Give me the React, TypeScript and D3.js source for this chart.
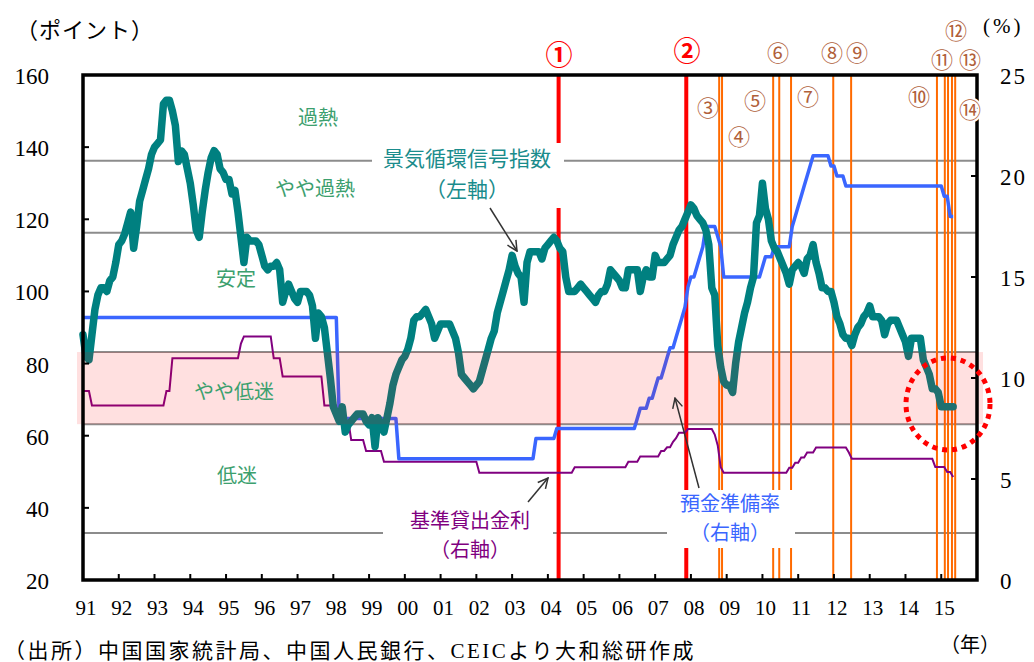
import React from 'react';
import * as d3 from 'd3';

// 月次データ: 1991年1月〜2015年5月
const START_YEAR = 1991;
const yearLabels = ['91', '92', '93', '94', '95', '96', '97', '98', '99', '00', '01', '02', '03', '04', '05', '06', '07', '08', '09', '10', '11', '12', '13', '14', '15'];

// 景気循環信号指数 (左軸)
const climateIndex = [
  88, 82, 81, 88, 95, 99, 101, 101, 100, 103, 104, 108,
  113, 114, 116, 119, 122, 112, 118, 125, 128, 131, 134, 138,
  140, 141, 142, 152, 153, 153, 150, 146, 136, 139, 138, 134,
  130, 124, 117, 115, 122, 128, 133, 137, 139, 138, 134, 133,
  131, 131, 127, 128, 122, 115, 108, 115, 114, 114, 114, 113,
  110, 107, 106, 107, 107, 108, 106, 97, 100, 102, 100, 98,
  97, 100, 100, 100, 99, 96, 87, 94, 93, 90, 83, 76,
  68, 66, 64, 68, 61, 63, 64, 65, 66, 66, 66, 64,
  63, 65, 57, 65, 63, 61, 65, 69, 74, 77, 79, 81,
  82, 84, 87, 92, 93, 93, 94, 95, 93, 91, 87, 89,
  91, 91, 91, 91, 89, 87, 83, 77, 76, 75, 74, 73,
  74, 75, 78, 81, 84, 87, 89, 94, 97, 100, 103, 106,
  110, 107, 105, 104, 97, 108, 111, 111, 111, 111, 109, 112,
  113, 114, 115, 114, 112, 111, 104, 100, 100, 100, 101, 102,
  101, 100, 99, 98, 97, 99, 100, 100, 102, 106, 105, 104,
  103, 101, 101, 106, 106, 106, 106, 100, 104, 106, 104, 104,
  110, 108, 108, 108, 109, 110, 113, 115, 117, 118, 120, 122,
  124, 123, 121, 120, 119, 117, 113, 101, 99, 85, 79, 75,
  74, 74, 72, 80, 86, 90, 94, 97, 101, 104, 119, 121,
  130, 123, 120, 114, 112, 111, 109, 107, 105, 102, 106, 107,
  108, 107, 105, 109, 110, 113, 108, 105, 101, 101, 100, 100,
  97, 93, 91, 88, 87, 87, 85, 88, 90, 91, 93, 94,
  96, 93, 93, 93, 92, 88, 91, 92, 92, 92, 90, 88,
  86, 82, 87, 87, 87, 87, 81, 79, 77, 73, 73, 72,
  68, 68, 68, 68, 68,
];

// 預金準備率 (右軸, %) 変更月と水準
const rrrMonths = ['1991-01', '1998-03', '1999-11', '2003-09', '2004-04', '2006-07', '2006-08', '2006-11', '2007-01', '2007-02', '2007-04', '2007-05', '2007-06', '2007-08', '2007-09', '2007-10', '2007-11', '2007-12', '2008-01', '2008-03', '2008-04', '2008-05', '2008-06', '2008-10', '2008-11', '2008-12', '2010-01', '2010-02', '2010-05', '2010-11', '2010-12', '2011-01', '2011-02', '2011-03', '2011-04', '2011-05', '2011-06', '2011-12', '2012-02', '2012-05', '2015-02', '2015-04'];
const rrrValues = [13, 8, 6, 7, 7.5, 8, 8.5, 9, 9.5, 10, 10.5, 11, 11.5, 12, 12.5, 13, 13.5, 14.5, 15, 15.5, 16, 16.5, 17.5, 17, 16.5, 15, 15.5, 16, 16.5, 17.5, 18, 18.5, 19, 19.5, 20, 20.5, 21, 20.5, 20, 19.5, 19, 18];

// 基準貸出金利 (右軸, %)
const rateMonths = ['1991-01', '1991-04', '1993-05', '1993-07', '1995-06', '1995-07', '1996-05', '1996-08', '1997-10', '1998-03', '1998-07', '1998-12', '1999-06', '2002-02', '2004-10', '2006-04', '2006-08', '2007-03', '2007-05', '2007-07', '2007-08', '2007-09', '2007-12', '2008-09', '2008-10', '2008-11', '2008-12', '2010-10', '2010-12', '2011-02', '2011-04', '2011-07', '2012-06', '2012-07', '2014-11', '2015-03', '2015-05'];
const rateValues = [9.36, 8.64, 9.36, 10.98, 11.7, 12.06, 10.98, 10.08, 8.64, 7.92, 6.93, 6.39, 5.85, 5.31, 5.58, 5.85, 6.12, 6.39, 6.57, 6.84, 7.02, 7.29, 7.47, 7.2, 6.66, 5.58, 5.31, 5.56, 5.81, 6.06, 6.31, 6.56, 6.31, 6, 5.6, 5.35, 5.1];

// 景気の判定ライン
const zoneLines = [136.2, 116.3, 33.0];
const bandTop = 83.2;
const bandBottom = 63.2;

// 政策イベント
const eventDates = [2004.3, 2007.87, 2008.79, 2008.87, 2010.3, 2010.47, 2010.8, 2011.98, 2012.48, 2014.88, 2015.1, 2015.19, 2015.3, 2015.39];
const eventLabels = ['①', '②', '③', '④', '⑤', '⑥', '⑦', '⑧', '⑨', '⑩', '⑪', '⑫', '⑬', '⑭'];

const W = 1034;
const H = 662;
const L = 83, R = 977, T = 75, B = 580;

const monthIdx = (s: string) => {
  const [y, m] = s.split('-').map(Number);
  return (y - START_YEAR) * 12 + (m - 1);
};

const stepSeries = (months: string[], values: number[], n: number) => {
  const idx = months.map(monthIdx);
  return d3.range(n).map((m) => {
    let v = values[0];
    idx.forEach((k, i) => { if (k <= m) v = values[i]; });
    return v;
  });
};

const N = climateIndex.length;
const rrr = stepSeries(rrrMonths, rrrValues, N);
const rate = stepSeries(rateMonths, rateValues, N);

const x = d3.scaleLinear().domain([1991, 2016]).range([L, R]);
const yL = d3.scaleLinear().domain([20, 160]).range([B, T]);
const yR = d3.scaleLinear().domain([0, 25]).range([B, T]);
const t = (m: number) => START_YEAR + m / 12;

const lineL = d3.line<number>().x((_, i) => x(t(i))).y((d) => yL(d));
const lineR = d3.line<number>().x((_, i) => x(t(i))).y((d) => yR(d));

const serif = "'Liberation Serif', 'Noto Sans CJK JP', serif";
const sans = "'Noto Sans CJK JP', sans-serif";
const zoneColor = '#3ca06e';
const brown = '#b0603a';

// ラベル位置 (px)
const eventLabelPos: [number, number][] = [
  [559, 56], [687, 52], [708, 108], [739, 137], [755, 101], [778, 53], [808, 97],
  [832, 53], [857, 53], [919, 97], [942, 60], [956, 31], [970, 60], [970, 110],
];

export default function App() {
  return (
    <svg width={W} height={H} style={{ position: 'absolute', left: 0, top: 0, background: '#fff' }}>
      <defs>
        <marker id="arr" viewBox="0 0 12 12" refX="11" refY="6" markerWidth="12" markerHeight="12" markerUnits="userSpaceOnUse" orient="auto">
          <path d="M1,1 L11,6 L1,11" fill="none" stroke="#333" strokeWidth={1.5} />
        </marker>
      </defs>

      {/* 判定ライン */}
      {zoneLines.map((v) => (
        <line key={v} x1={L} x2={R} y1={yL(v)} y2={yL(v)} stroke="#8c8c8c" strokeWidth={2} />
      ))}
      {[bandTop, bandBottom].map((v) => (
        <line key={v} x1={L} x2={R} y1={yL(v)} y2={yL(v)} stroke="#8c8c8c" strokeWidth={2} />
      ))}

      {/* イベント線 */}
      {eventDates.map((d, i) => (
        <line key={i} x1={x(d)} x2={x(d)} y1={T} y2={B} stroke={i < 2 ? '#ff0000' : '#ff6a00'} strokeWidth={i < 2 ? 4 : 2} />
      ))}

      <path d={lineR(rate) ?? ''} fill="none" stroke="#800080" strokeWidth={2} />
      <path d={lineR(rrr) ?? ''} fill="none" stroke="#3a66ff" strokeWidth={3.5} strokeLinejoin="round" />
      <path d={lineL(climateIndex) ?? ''} fill="none" stroke="#008080" strokeWidth={7.5} strokeLinejoin="round" strokeLinecap="round" />

      {/* やや低迷の帯 */}
      <rect x={77} y={yL(bandTop)} width={906} height={yL(bandBottom) - yL(bandTop)} fill="#ff0000" opacity={0.12} />

      {/* 枠と目盛 */}
      <rect x={L} y={T} width={R - L} height={B - T} fill="none" stroke="#000" strokeWidth={3.5} />
      {d3.range(20, 161, 20).map((v) => (
        <g key={'l' + v}>
          <line x1={L} x2={L + 6} y1={yL(v)} y2={yL(v)} stroke="#000" strokeWidth={2} />
          <text x={49} y={yL(v) + 1} dy="0.35em" textAnchor="end" fontFamily={serif} fontSize={23}>{v}</text>
        </g>
      ))}
      {d3.range(0, 26, 5).map((v) => (
        <g key={'r' + v}>
          <line x1={R - 6} x2={R} y1={yR(v)} y2={yR(v)} stroke="#000" strokeWidth={2} />
          <text x={1000} y={yR(v) + 1} dy="0.35em" fontFamily={serif} fontSize={23} letterSpacing={2}>{v}</text>
        </g>
      ))}
      {yearLabels.map((lab, i) => (
        <g key={lab}>
          {i > 0 && <line x1={x(START_YEAR + i)} x2={x(START_YEAR + i)} y1={B} y2={B - 6} stroke="#000" strokeWidth={2} />}
          <text x={x(START_YEAR + i) + 3} y={608} dy="0.35em" textAnchor="middle" fontFamily={serif} fontSize={21}>{lab}</text>
        </g>
      ))}

      {/* ゾーン名 */}
      <g fontFamily={sans} fontSize={20} fill={zoneColor} textAnchor="middle">
        <text x={318} y={118} dy="0.35em">過熱</text>
        <text x={315} y={189} dy="0.35em">やや過熱</text>
        <text x={236} y={279} dy="0.35em">安定</text>
        <text x={234} y={392} dy="0.35em">やや低迷</text>
        <text x={237} y={476} dy="0.35em">低迷</text>
      </g>

      {/* 系列ラベル */}
      <rect x={372} y={143} width={192} height={65} fill="#fff" />
      <g fontFamily={sans} fontSize={21} fill="#1a8c8c" textAnchor="middle">
        <text x={467} y={159} dy="0.35em">景気循環信号指数</text>
        <text x={467} y={190} dy="0.35em">（左軸）</text>
      </g>
      <line x1={490} y1={208} x2={517} y2={251} stroke="#333" strokeWidth={1.5} markerEnd="url(#arr)" />

      <rect x={383} y={505} width={170} height={57} fill="#fff" />
      <g fontFamily={sans} fontSize={20} fill="#800080" textAnchor="middle">
        <text x={470} y={521} dy="0.35em">基準貸出金利</text>
        <text x={470} y={550} dy="0.35em">（右軸）</text>
      </g>
      <line x1={528} y1={502} x2={548} y2={478} stroke="#333" strokeWidth={1.5} markerEnd="url(#arr)" />

      <rect x={667} y={490} width={128} height={58} fill="#fff" />
      <g fontFamily={sans} fontSize={20} fill="#3a66ff" textAnchor="middle">
        <text x={730} y={504} dy="0.35em">預金準備率</text>
        <text x={730} y={533} dy="0.35em">（右軸）</text>
      </g>
      <line x1={699} y1={488} x2={675} y2={398} stroke="#333" strokeWidth={1.5} markerEnd="url(#arr)" />

      {/* イベント番号 */}
      {eventLabels.map((lab, i) => (
        <text key={lab} x={eventLabelPos[i][0]} y={eventLabelPos[i][1]} dy="0.35em" textAnchor="middle"
          fontFamily={sans} fontSize={i < 2 ? 27 : 22} fontWeight={i < 2 ? 'bold' : 'normal'}
          fill={i < 2 ? '#ff0000' : brown} stroke="#fff" strokeWidth={i === 13 ? 4 : 0} paintOrder="stroke">
          {lab}
        </text>
      ))}

      {/* 注目箇所 */}
      <ellipse cx={948} cy={404} rx={42} ry={46} fill="none" stroke="#ff0000" strokeWidth={5} strokeDasharray="5 5" />

      <text x={16} y={30} dy="0.35em" fontFamily={serif} fontSize={22} letterSpacing={1}>（ポイント）</text>
      <text x={983} y={26} dy="0.35em" fontFamily={serif} fontSize={21} letterSpacing={3}>(%)</text>
      <text x={940} y={645} dy="0.35em" fontFamily={serif} fontSize={20}>（年）</text>
      <text x={4} y={651} dy="0.35em" fontFamily={serif} fontSize={21} letterSpacing={2.5}>（出所）中国国家統計局、中国人民銀行、CEICより大和総研作成</text>
    </svg>
  );
}
